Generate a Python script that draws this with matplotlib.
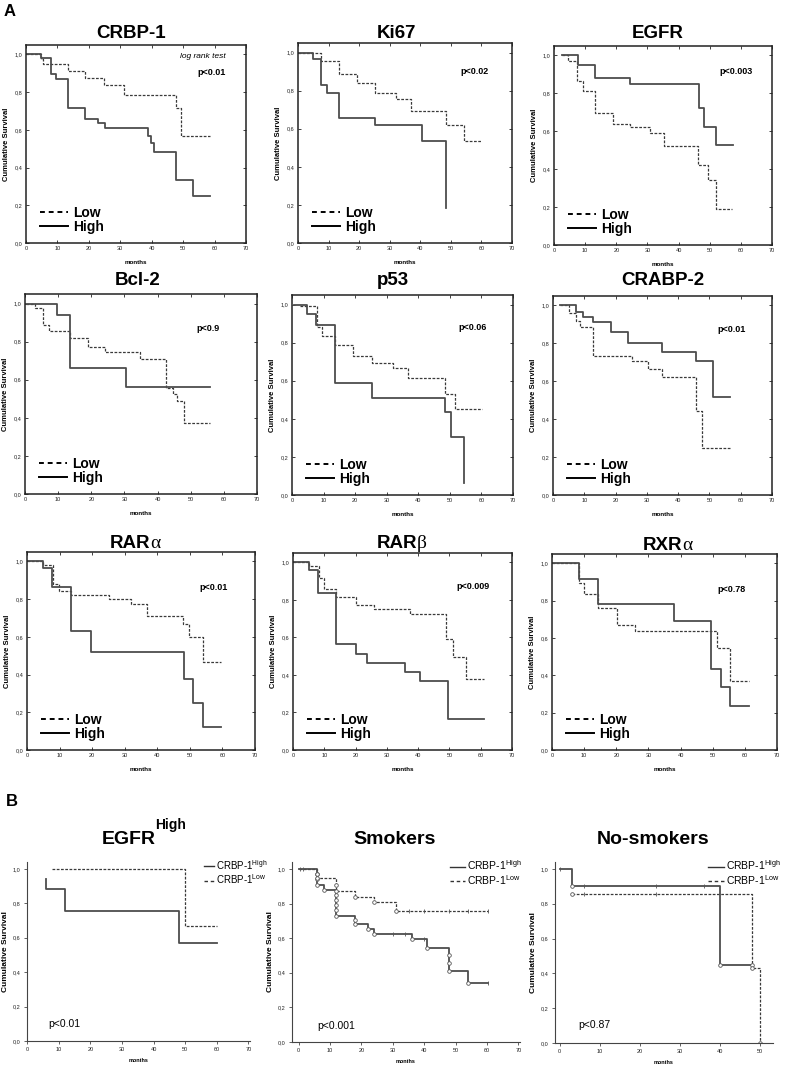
import matplotlib
matplotlib.use("Agg")
import matplotlib.pyplot as plt
from matplotlib.lines import Line2D
from matplotlib.ticker import FuncFormatter

plt.rcParams['font.family'] = ['Liberation Sans', 'DejaVu Sans']
plt.rcParams['mathtext.fontset'] = 'custom'
plt.rcParams['mathtext.rm'] = 'Liberation Sans'
plt.rcParams['mathtext.bf'] = 'Liberation Sans:bold'

W, H = 800, 1069

# ---- panel A: Kaplan-Meier steps (months, cumulative survival) ----
crbp1_low_t = [0, 4.8, 5.5, 13.3, 18.9, 24.7, 31.1, 47.6, 49.3]
crbp1_low_s = [1.0, 0.975, 0.95, 0.914, 0.875, 0.838, 0.786, 0.718, 0.570]
crbp1_low_end = 58.7
crbp1_high_t = [0, 4.8, 8.0, 9.6, 13.3, 18.9, 22.9, 25.0, 38.8, 39.9, 40.6, 47.6, 53.2]
crbp1_high_s = [1.0, 0.98, 0.895, 0.87, 0.715, 0.66, 0.635, 0.61, 0.57, 0.53, 0.48, 0.335, 0.25]
crbp1_high_end = 58.7

ki67_low_t = [0, 7.6, 13.3, 19.4, 25.3, 32.2, 36.9, 48.5, 54.3]
ki67_low_s = [1.0, 0.956, 0.885, 0.838, 0.785, 0.755, 0.695, 0.621, 0.538]
ki67_low_end = 59.8
ki67_high_t = [0, 4.9, 7.6, 9.6, 13.3, 25.3, 40.6, 48.5]
ki67_high_s = [1.0, 0.965, 0.827, 0.789, 0.656, 0.617, 0.533, 0.186]
ki67_high_end = 48.5

egfr_low_t = [2.5, 4.6, 7.3, 9.4, 13.1, 18.8, 24.3, 30.7, 35.2, 46.2, 49.4, 52.1]
egfr_low_s = [1.0, 0.97, 0.867, 0.813, 0.698, 0.641, 0.622, 0.59, 0.524, 0.421, 0.343, 0.192]
egfr_low_end = 57.2
egfr_high_t = [2.5, 7.6, 13.1, 24.3, 46.5, 48.3, 52.1]
egfr_high_s = [1.0, 0.95, 0.881, 0.849, 0.725, 0.625, 0.529]
egfr_high_end = 57.4

bcl2_low_t = [0.3, 3.0, 5.4, 7.1, 13.5, 19.0, 24.0, 34.8, 42.6, 44.6, 45.8, 47.9]
bcl2_low_s = [1.0, 0.974, 0.888, 0.856, 0.818, 0.772, 0.743, 0.708, 0.555, 0.524, 0.489, 0.375]
bcl2_low_end = 55.8
bcl2_high_t = [0.3, 9.8, 13.5, 30.4]
bcl2_high_s = [1.0, 0.94, 0.66, 0.564]
bcl2_high_end = 55.8

p53_low_t = [2.4, 8.0, 9.5, 13.5, 19.3, 25.3, 32.0, 36.7, 48.4, 51.5]
p53_low_s = [0.991, 0.88, 0.837, 0.786, 0.731, 0.692, 0.666, 0.613, 0.529, 0.452]
p53_low_end = 60.2
p53_high_t = [0.6, 4.9, 7.7, 13.5, 25.3, 48.4, 50.5, 54.4]
p53_high_s = [1.0, 0.951, 0.895, 0.587, 0.511, 0.434, 0.306, 0.063]
p53_high_end = 54.4

crabp2_low_t = [2.3, 5.0, 7.5, 8.5, 12.8, 25.3, 30.3, 34.7, 45.8, 47.5]
crabp2_low_s = [1.0, 0.958, 0.917, 0.885, 0.732, 0.705, 0.667, 0.624, 0.441, 0.25]
crabp2_low_end = 56.5
crabp2_high_t = [2.3, 7.5, 9.6, 12.8, 18.4, 23.9, 34.7, 45.8, 51.0]
crabp2_high_s = [1.0, 0.965, 0.938, 0.914, 0.861, 0.801, 0.755, 0.709, 0.515]
crabp2_high_end = 56.5

rara_low_t = [0, 5.0, 8.1, 9.9, 13.5, 25.2, 31.8, 36.7, 47.9, 49.8, 54.0]
rara_low_s = [1.0, 0.981, 0.879, 0.841, 0.821, 0.803, 0.772, 0.712, 0.666, 0.598, 0.467]
rara_low_end = 59.6
rara_high_t = [0, 5.0, 7.8, 13.5, 19.6, 48.1, 51.0, 53.9]
rara_high_s = [1.0, 0.966, 0.866, 0.629, 0.521, 0.376, 0.247, 0.121]
rara_high_end = 59.6

rarb_low_t = [0, 5.2, 8.3, 9.9, 13.9, 20.0, 25.8, 37.5, 48.8, 51.3, 55.2]
rarb_low_s = [1.0, 0.983, 0.917, 0.858, 0.815, 0.775, 0.751, 0.725, 0.593, 0.495, 0.381]
rarb_low_end = 60.9
rarb_high_t = [0, 5.0, 8.1, 13.9, 20.0, 23.8, 35.7, 40.6, 49.7]
rarb_high_s = [1.0, 0.96, 0.839, 0.564, 0.514, 0.464, 0.414, 0.367, 0.166]
rarb_high_end = 60.9

rxra_low_t = [0, 8.3, 10.0, 14.2, 20.1, 25.9, 51.4, 55.5]
rxra_low_s = [1.0, 0.895, 0.838, 0.759, 0.668, 0.637, 0.546, 0.372]
rxra_low_end = 61.3
rxra_high_t = [0, 8.3, 14.2, 37.8, 49.5, 52.5, 55.3]
rxra_high_s = [1.0, 0.914, 0.78, 0.689, 0.436, 0.337, 0.237]
rxra_high_end = 61.3

p_values_a = ['p<0.01', 'p<0.02', 'p<0.003', 'p<0.9', 'p<0.06', 'p<0.01',
              'p<0.01', 'p<0.009', 'p<0.78']

# ---- panel B ----
egfrh_high_t = [6.0, 6.0, 11.9, 48.2]
egfrh_high_s = [0.942, 0.883, 0.757, 0.567]
egfrh_high_end = 60.0
egfrh_low_t = [7.9, 50.0]
egfrh_low_s = [1.0, 0.666]
egfrh_low_end = 60.0

smk_high_t = [0, 6, 6, 6, 8, 12, 12, 12, 12, 12, 18, 18, 22, 24, 36, 41, 48, 48, 48, 54]
smk_high_s = [1.0, 0.97, 0.94, 0.91, 0.88, 0.85, 0.82, 0.79, 0.76, 0.73, 0.705, 0.68,
              0.655, 0.625, 0.595, 0.545, 0.50, 0.455, 0.41, 0.34]
smk_high_end = 60.4
smk_high_cens = [0.5, 1.5, 30, 34, 40, 60.4]
smk_high_cens_s = [1.0, 1.0, 0.625, 0.625, 0.595, 0.34]
smk_low_t = [0, 6, 6, 12, 12, 18, 24, 31]
smk_low_s = [1.0, 0.97, 0.945, 0.91, 0.875, 0.84, 0.81, 0.755]
smk_low_end = 60.4
smk_low_cens = [35, 40, 48, 54, 60.4]

nsm_high_t = [0, 3.1, 40.0, 48.0]
nsm_high_s = [1.0, 0.902, 0.449, 0.449]
nsm_high_end = 48.0
nsm_high_cens = [0, 6.1, 24, 36]
nsm_high_cens_s = [1.0, 0.902, 0.902, 0.902]
nsm_low_t = [3.1, 48.0, 50.0]
nsm_low_s = [0.857, 0.43, 0.0]
nsm_low_end = 50.0
nsm_low_cens = [6.1, 24]

p_values_b = ['p<0.01', 'p<0.001', 'p<0.87']

SOLID = dict(color='#4d4d4d', lw=1.3, linestyle='-')
DASHED = dict(color='#3a3a3a', lw=0.9, linestyle=(0, (2.2, 1.2)))


def px_rect(l, r, t, b):
    return [l / W, 1 - b / H, (r - l) / W, (b - t) / H]


def fig_text(fig, x, y, s, **kw):
    fig.text(x / W, 1 - y / H, s, **kw)


def km(ax, t, s, end, style):
    ax.step(list(t) + [end], list(s) + [s[-1]], where='post', **style)


def comma(v, pos):
    return ('%.1f' % v).replace('.', ',')


def setup_a(ax):
    ax.set_xlim(0, 70)
    ax.set_ylim(0, 1.05)
    ax.set_xticks(range(0, 71, 10))
    ax.set_yticks([0, 0.2, 0.4, 0.6, 0.8, 1.0])
    ax.yaxis.set_major_formatter(FuncFormatter(comma))
    ax.tick_params(direction='in', top=True, right=True, length=2.5, width=0.6,
                   labelsize=4, pad=2.5, colors='#222222')
    for sp in ax.spines.values():
        sp.set_linewidth(1.1)
        sp.set_color('#222222')
    ax.set_ylabel('Cumulative Survival', fontsize=5.5, fontweight='bold', labelpad=3)
    ax.set_xlabel('months', fontsize=4.5, fontweight='bold', labelpad=6)


def legend_a(ax):
    h = [Line2D([], [], color='black', lw=1.4, linestyle=(0, (2.5, 2))),
         Line2D([], [], color='black', lw=1.4)]
    ax.legend(h, ['Low', 'High'], loc='lower left', bbox_to_anchor=(0.02, -0.005),
              frameon=False, prop=dict(size=10, weight='bold'), handlelength=2.0,
              handletextpad=0.35, labelspacing=0.05, borderpad=0.2)


def setup_b(ax, xmin, xmax, xticks):
    ax.set_xlim(xmin, xmax)
    ax.set_ylim(0, 1.04)
    ax.set_xticks(xticks)
    ax.set_yticks([0, 0.2, 0.4, 0.6, 0.8, 1.0])
    ax.yaxis.set_major_formatter(FuncFormatter(comma))
    ax.spines['top'].set_visible(False)
    ax.spines['right'].set_visible(False)
    for sp in ('left', 'bottom'):
        ax.spines[sp].set_linewidth(0.8)
        ax.spines[sp].set_color('#444444')
    ax.tick_params(direction='out', length=2, width=0.5, labelsize=4, pad=2.5,
                   colors='#222222')
    ax.set_ylabel('Cumulative Survival', fontsize=6, fontweight='bold', labelpad=3)
    ax.set_xlabel('months', fontsize=4, fontweight='bold', labelpad=4)


def legend_b(ax, x, size=7.5, hl=1.5):
    h = [Line2D([], [], color='#333333', lw=1.0),
         Line2D([], [], color='#333333', lw=1.0, linestyle=(0, (2.5, 2)))]
    ax.legend(h, [r'CRBP-1$^{\mathrm{High}}$', r'CRBP-1$^{\mathrm{Low}}$'],
              loc='upper left', bbox_to_anchor=(x, 1.06), frameon=False,
              prop=dict(size=size), handlelength=hl, handletextpad=0.2,
              labelspacing=0.05, borderpad=0.2)


def main():
    fig = plt.figure(figsize=(W / 100, H / 100), dpi=100)

    panels = [
        ('CRBP-1', (26, 246, 45, 243), (131, 33), crbp1_low_t, crbp1_low_s, crbp1_low_end,
         crbp1_high_t, crbp1_high_s, crbp1_high_end, (0.91, 0.86)),
        ('Ki67', (298, 512, 43, 243), (397, 33), ki67_low_t, ki67_low_s, ki67_low_end,
         ki67_high_t, ki67_high_s, ki67_high_end, (0.89, 0.86)),
        ('EGFR', (554, 772, 46, 245), (658, 33), egfr_low_t, egfr_low_s, egfr_low_end,
         egfr_high_t, egfr_high_s, egfr_high_end, (0.91, 0.87)),
        ('Bcl-2', (25, 257, 294, 494), (138, 280), bcl2_low_t, bcl2_low_s, bcl2_low_end,
         bcl2_high_t, bcl2_high_s, bcl2_high_end, (0.84, 0.83)),
        ('p53', (292, 513, 295, 495), (393, 280), p53_low_t, p53_low_s, p53_low_end,
         p53_high_t, p53_high_s, p53_high_end, (0.88, 0.84)),
        ('CRABP-2', (553, 772, 296, 495), (663, 280), crabp2_low_t, crabp2_low_s, crabp2_low_end,
         crabp2_high_t, crabp2_high_s, crabp2_high_end, (0.88, 0.83)),
        ('RAR', (27, 255, 552, 750), (150, 543), rara_low_t, rara_low_s, rara_low_end,
         rara_high_t, rara_high_s, rara_high_end, (0.88, 0.82)),
        ('RAR', (293, 512, 553, 750), (417, 543), rarb_low_t, rarb_low_s, rarb_low_end,
         rarb_high_t, rarb_high_s, rarb_high_end, (0.90, 0.83)),
        ('RXR', (552, 777, 554, 750), (682, 545), rxra_low_t, rxra_low_s, rxra_low_end,
         rxra_high_t, rxra_high_s, rxra_high_end, (0.86, 0.82)),
    ]
    greek = [None] * 6 + ['\u03b1', '\u03b2', '\u03b1']

    for i, (title, box, tpos, lt, ls, le, ht, hs, he, ppos) in enumerate(panels):
        ax = fig.add_axes(px_rect(*box))
        km(ax, lt, ls, le, DASHED)
        km(ax, ht, hs, he, SOLID)
        setup_a(ax)
        legend_a(ax)
        ax.text(ppos[0], ppos[1], p_values_a[i], transform=ax.transAxes, ha='right',
                va='center', fontsize=6.5, fontweight='bold')
        if i == 0:
            ax.text(0.91, 0.94, 'log rank test', transform=ax.transAxes, ha='right',
                    va='center', fontsize=6, style='italic')
        if greek[i] is None:
            fig_text(fig, tpos[0], tpos[1], title, ha='center', va='center',
                     fontsize=13.5, fontweight='bold')
        else:
            fig_text(fig, tpos[0], tpos[1], title, ha='right', va='center',
                     fontsize=13.5, fontweight='bold')
            fig_text(fig, tpos[0], tpos[1] + 1, greek[i], ha='left', va='center',
                     fontsize=14, family='Liberation Serif')

    fig_text(fig, 10, 12, 'A', ha='center', va='center', fontsize=12, fontweight='bold')
    fig_text(fig, 12, 802, 'B', ha='center', va='center', fontsize=12, fontweight='bold')

    # EGFR high subgroup
    ax = fig.add_axes(px_rect(27, 250, 862, 1041))
    km(ax, egfrh_low_t, egfrh_low_s, egfrh_low_end, DASHED)
    km(ax, egfrh_high_t, egfrh_high_s, egfrh_high_end, SOLID)
    setup_b(ax, 0, 70.5, range(0, 71, 10))
    legend_b(ax, 0.765, size=7, hl=1.0)
    ax.text(0.095, 0.095, p_values_b[0], transform=ax.transAxes, fontsize=7.5, va='center')
    fig_text(fig, 129, 840, 'EGFR', ha='center', va='center', fontsize=14, fontweight='bold')
    fig_text(fig, 155, 825, 'High', ha='left', va='center', fontsize=10, fontweight='bold')

    mk = dict(marker='o', ms=2.6, mfc='white', mec='#555555', mew=0.6, linestyle='none')
    cm = dict(marker='|', ms=3, color='#555555', linestyle='none', mew=0.6)

    # smokers
    ax = fig.add_axes(px_rect(292, 520, 862, 1042))
    km(ax, smk_low_t, smk_low_s, smk_low_end, DASHED)
    km(ax, smk_high_t, smk_high_s, smk_high_end, SOLID)
    ax.plot(smk_high_t[1:], smk_high_s[1:], **mk)
    ax.plot(smk_low_t[1:], smk_low_s[1:], **mk)
    ax.plot(smk_high_cens, smk_high_cens_s, **cm)
    ax.plot(smk_low_cens, [smk_low_s[-1]] * len(smk_low_cens), **cm)
    setup_b(ax, -2.1, 70.5, range(0, 71, 10))
    legend_b(ax, 0.66)
    ax.text(0.11, 0.09, p_values_b[1], transform=ax.transAxes, fontsize=7.5, va='center')
    fig_text(fig, 395, 840, 'Smokers', ha='center', va='center', fontsize=14,
             fontweight='bold')

    # non smokers
    ax = fig.add_axes(px_rect(555, 773, 862, 1043))
    km(ax, nsm_low_t, nsm_low_s, nsm_low_end, DASHED)
    km(ax, nsm_high_t, nsm_high_s, nsm_high_end, SOLID)
    ax.plot(nsm_high_t[1:], nsm_high_s[1:], **mk)
    ax.plot(nsm_low_t, nsm_low_s, **mk)
    ax.plot(nsm_high_cens, nsm_high_cens_s, **cm)
    ax.plot(nsm_low_cens, [nsm_low_s[0]] * len(nsm_low_cens), **cm)
    setup_b(ax, -1.2, 53.3, range(0, 51, 10))
    legend_b(ax, 0.67)
    ax.text(0.105, 0.10, p_values_b[2], transform=ax.transAxes, fontsize=7.5, va='center')
    fig_text(fig, 653, 840, 'No-smokers', ha='center', va='center', fontsize=14,
             fontweight='bold')

    fig.savefig('out.png', dpi=100)
    plt.close(fig)


if __name__ == "__main__":
    main()
